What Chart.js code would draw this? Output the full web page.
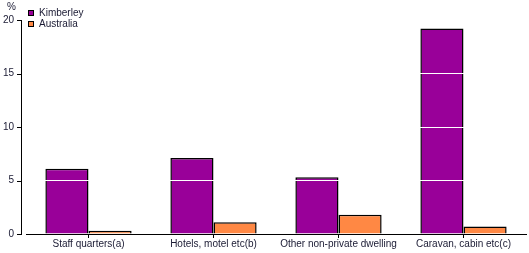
<!DOCTYPE html>
<html><head><meta charset="utf-8">
<script src="https://cdn.jsdelivr.net/npm/chart.js@4"></script>
<style>
html,body{margin:0;padding:0;background:#fff;}
#wrap{position:relative;width:529px;height:253px;}
#legend{position:absolute;left:28px;top:7px;font:10px "Liberation Sans",Arial,sans-serif;color:#1a1a33;line-height:11px;}
#legend div{display:flex;align-items:center;height:11px;}
#legend span.box{display:inline-block;width:4px;height:4px;border:1px solid #000;margin-right:5px;}
#pct{position:absolute;left:7px;top:1px;font:10px "Liberation Sans",Arial,sans-serif;color:#1a1a33;}
</style></head>
<body><div id="wrap"><canvas id="c" width="529" height="253"></canvas>
<div id="pct">%</div>
<div id="legend"></div></div>
<script>
const categories = ["Staff quarters(a)", "Hotels, motel etc(b)", "Other non-private dwelling", "Caravan, cabin etc(c)"];
const kimberley = [6.1, 7.1, 5.3, 19.2];
const australia = [0.3, 1.1, 1.8, 0.7];
const yTicks = [0, 5, 10, 15, 20];
const seriesNames = ["Kimberley", "Australia"];
const seriesColors = ["#990099", "#FF8844"];

const leg = document.getElementById('legend');
seriesNames.forEach((n,i)=>{
  const d=document.createElement('div');
  d.innerHTML='<span class="box" style="background:'+seriesColors[i]+'"></span>'+n;
  leg.appendChild(d);
});

const axisPlugin = {
  id:'axisPlugin',
  afterDraw(chart){
    const ctx=chart.ctx, y=chart.scales.y, a=chart.chartArea;
    const x0=a.left-5;
    ctx.save();
    ctx.strokeStyle='#000';ctx.lineWidth=1;
    ctx.beginPath();
    ctx.moveTo(x0+0.5,y.top);ctx.lineTo(x0+0.5,y.bottom);
    yTicks.forEach(v=>{const py=Math.round(y.getPixelForValue(v))+0.5;ctx.moveTo(x0-4,py);ctx.lineTo(x0+1,py);});
    ctx.stroke();
    ctx.restore();
  }
};

new Chart(document.getElementById('c'),{
  type:'bar',
  data:{labels:categories,datasets:[
    {label:seriesNames[0],data:kimberley,backgroundColor:seriesColors[0],borderColor:'#000',borderWidth:1.5,categoryPercentage:0.69,barPercentage:1.0},
    {label:seriesNames[1],data:australia,backgroundColor:seriesColors[1],borderColor:'#000',borderWidth:1.5,categoryPercentage:0.69,barPercentage:1.0}
  ]},
  options:{
    responsive:false,animation:false,
    layout:{padding:{top:20,right:3,left:0,bottom:0}},
    plugins:{legend:{display:false},tooltip:{enabled:false}},
    scales:{
      x:{
        grid:{display:true,drawOnChartArea:false,drawTicks:true,tickLength:4,offset:false,color:'#000'},
        border:{display:true,color:'#000',width:1},
        ticks:{color:'#1a1a33',font:{family:'"Liberation Sans", Arial, sans-serif',size:10},padding:0,maxRotation:0,autoSkip:false},
        afterFit(s){s.height=19;}
      },
      y:{
        min:0,max:20,
        afterBuildTicks(s){s.ticks=yTicks.map(v=>({value:v}));},
        grid:{color:(c)=>c.tick&&c.tick.value===0?'rgba(0,0,0,0)':'#fff',lineWidth:1,drawTicks:false,z:1},
        border:{display:false},
        ticks:{color:'#1a1a33',font:{family:'"Liberation Sans", Arial, sans-serif',size:10},padding:12},
        afterFit(s){s.width=26;}
      }
    }
  },
  plugins:[axisPlugin]
});
</script></body></html>
